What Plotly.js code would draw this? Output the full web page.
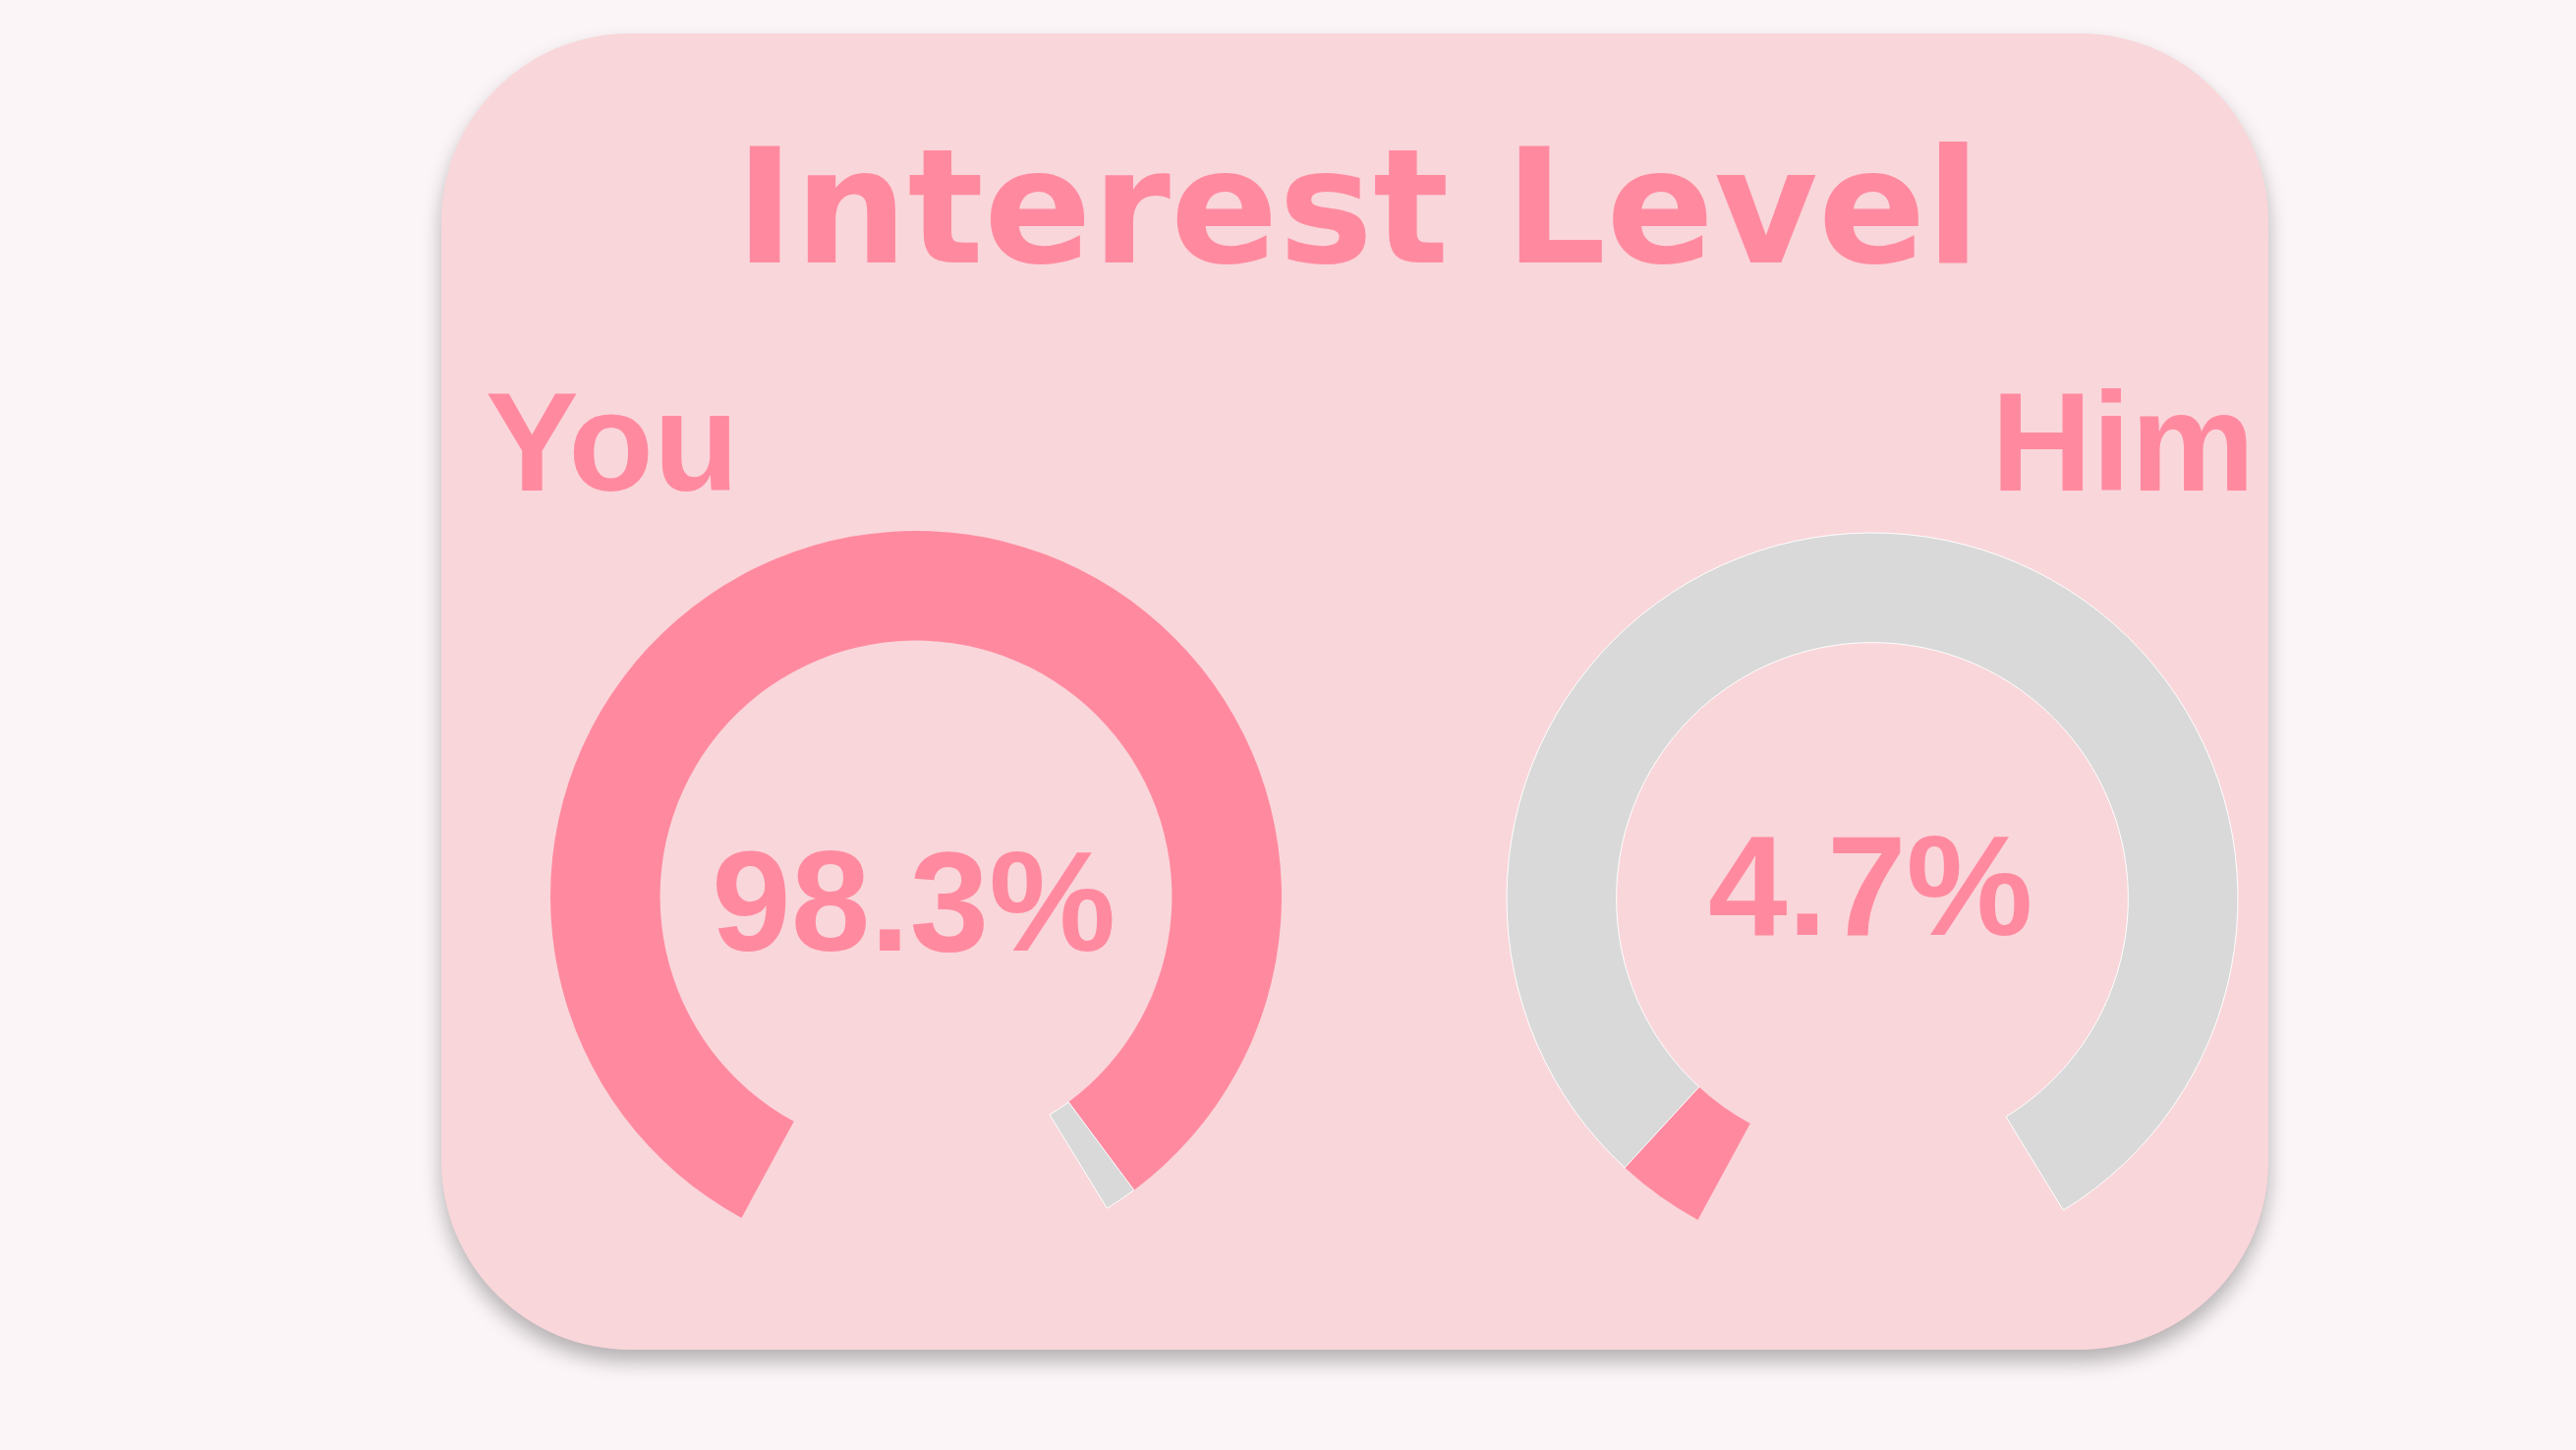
<!DOCTYPE html>
<html>
<head>
<meta charset="utf-8">
<script src="https://cdn.plot.ly/plotly-3.0.1.min.js"></script>
<style>
  html, body { margin: 0; padding: 0; background: #FBF5F7; width: 2621px; height: 1475px; overflow: hidden; }
  #card { position: absolute; left: 449px; top: 34px; width: 1859px; height: 1339px;
          background: #F9D6DA; border-radius: 192px; box-shadow: 0 12px 20px rgba(0,0,0,0.28); }
  #chart { position: absolute; left: 0; top: 0; width: 2621px; height: 1475px; }
</style>
</head>
<body>
<div id="card"></div>
<div id="chart"></div>
<script>
// ---- data ----
const chartTitle = "Interest Level";
const people = ["You", "Him"];
const interest = [98.3, 4.7];          // percent
const sliceLabels = ["Interest", "Remaining", "Gap"];
const GAP = 20;                         // hidden gap slice (design)

const PINK = "#FF8AA0", GRAY = "#D9D9D9", CLEAR = "rgba(0,0,0,0)";
const W = 2621, H = 1475;

// pixel helpers for domains
function xd(a, b) { return [a / W, b / W]; }
function yd(top, bottom) { return [(H - bottom) / H, (H - top) / H]; }

const centers = [[932, 912], [1905, 914]];
const R = 372;

const traces = people.map((p, i) => ({
  type: "pie",
  name: p,
  labels: sliceLabels,
  values: [interest[i], 100 - interest[i], GAP],
  sort: false,
  direction: "clockwise",
  rotation: 208.5,
  hole: 0.70,
  textinfo: "none",
  hoverinfo: "skip",
  showlegend: false,
  marker: {
    colors: [PINK, GRAY, CLEAR],
    line: { color: ["rgba(0,0,0,0)", "#FFFFFF", "rgba(0,0,0,0)"], width: [0, 1, 0] }
  },
  domain: {
    x: xd(centers[i][0] - R, centers[i][0] + R),
    y: yd(centers[i][1] - R, centers[i][1] + R)
  }
}));

const numFmt = v => v.toFixed(1) + "%";

const layout = {
  width: W, height: H,
  margin: { l: 0, r: 0, t: 0, b: 0 },
  paper_bgcolor: "rgba(0,0,0,0)",
  plot_bgcolor: "rgba(0,0,0,0)",
  xaxis: { range: [0, W], visible: false, fixedrange: true },
  yaxis: { range: [H, 0], visible: false, fixedrange: true },
  annotations: [
    { text: chartTitle, x: 1381, y: 211, xref: "x", yref: "y", xanchor: "center", yanchor: "middle",
      showarrow: false, font: { family: "DejaVu Sans", size: 162, color: PINK, weight: "bold" } },
    { text: people[0], x: 492, y: 449, xref: "x", yref: "y", xanchor: "left", yanchor: "middle",
      showarrow: false, font: { family: "Liberation Sans", size: 142, color: PINK, weight: "bold" } },
    { text: people[1], x: 2296, y: 449, xref: "x", yref: "y", xanchor: "right", yanchor: "middle",
      showarrow: false, font: { family: "Liberation Sans", size: 142, color: PINK, weight: "bold" } },
    { text: numFmt(interest[0]), x: 929, y: 917, xref: "x", yref: "y", xanchor: "center", yanchor: "middle",
      showarrow: false, font: { family: "Liberation Sans", size: 145, color: PINK, weight: "bold" } },
    { text: numFmt(interest[1]), x: 1903, y: 901, xref: "x", yref: "y", xanchor: "center", yanchor: "middle",
      showarrow: false, font: { family: "Liberation Sans", size: 145, color: PINK, weight: "bold" } }
  ]
};

Plotly.newPlot("chart", traces, layout, { staticPlot: true, displayModeBar: false });
</script>
</body>
</html>
